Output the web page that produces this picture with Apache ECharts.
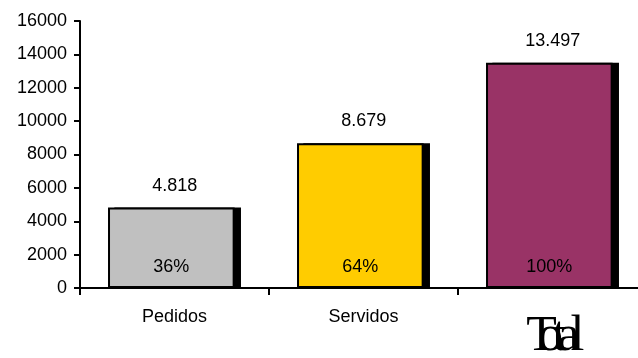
<!DOCTYPE html>
<html>
<head>
<meta charset="utf-8">
<script src="https://cdn.jsdelivr.net/npm/echarts@6/dist/echarts.min.js"></script>
<style>
  html, body { margin: 0; padding: 0; background: #fff; }
  #chart { width: 638px; height: 358px; }
</style>
</head>
<body>
<div id="chart"></div>
<script>
const categories = ['Pedidos', 'Servidos', 'Total']
const values = [4818, 8679, 13497]
const valueLabels = ['4.818', '8.679', '13.497']
const percentLabels = ['36%', '64%', '100%']
const barColors = ['#c0c0c0', '#ffcc00', '#993366']

const font = 'Liberation Sans, Arial, sans-serif'

const chart = echarts.init(document.getElementById('chart'))

// the last label is drawn squeezed, glyphs overlapping
const squeeze = (s) => s.split('').map((c, i) => (i === 0 ? '{f|' : '{g|') + c + '}').join('')

chart.setOption({
  animation: false,
  grid: {
    left: 80,
    right: -9,
    top: 21,
    bottom: 70,
    outerBoundsMode: 'none'
  },
  xAxis: {
    type: 'category',
    data: categories,
    axisLine: { lineStyle: { color: '#000', width: 2 } },
    axisTick: { show: true, interval: 0, length: 7, lineStyle: { color: '#000', width: 2 } },
    axisLabel: {
      interval: 0,
      hideOverlap: false,
      color: '#000',
      fontFamily: font,
      fontSize: 18,
      margin: 20,
      formatter: (v) => v === 'Total' ? squeeze(v) : v,
      rich: {
        f: {
          fontFamily: 'Liberation Serif, serif',
          fontSize: 50,
          width: 9,
          color: '#000',
          padding: [4, 0, 0, 14]
        },
        g: {
          fontFamily: 'Liberation Serif, serif',
          fontSize: 50,
          width: 9,
          color: '#000',
          padding: [4, 0, 0, 0]
        }
      }
    }
  },
  yAxis: {
    type: 'value',
    min: 0,
    max: 16000,
    interval: 2000,
    axisLine: { show: true, lineStyle: { color: '#000', width: 2 } },
    axisTick: { show: true, length: 6, lineStyle: { color: '#000', width: 2 } },
    axisLabel: {
      color: '#000',
      fontFamily: font,
      fontSize: 18,
      margin: 13,
      formatter: (v) => String(v)
    },
    splitLine: { show: false }
  },
  series: [
    {
      type: 'bar',
      barWidth: '67%',
      barGap: '-95%',
      data: values.map((v, i) => ({
        value: v,
        itemStyle: { color: barColors[i] }
      })),
      itemStyle: {
        borderColor: '#000',
        borderWidth: 2
      },
      label: {
        show: true,
        position: 'insideBottom',
        distance: 12,
        color: '#000',
        fontFamily: font,
        fontSize: 18,
        formatter: (p) => percentLabels[p.dataIndex]
      },
      z: 3
    },
    {
      // drop shadow behind each bar
      type: 'bar',
      barWidth: '67%',
      barGap: '-95%',
      data: values,
      itemStyle: { color: '#000' },
      label: {
        show: true,
        position: 'top',
        distance: 13,
        offset: [-3, 0],
        color: '#000',
        fontFamily: font,
        fontSize: 18,
        formatter: (p) => valueLabels[p.dataIndex]
      },
      silent: true,
      z: 2
    }
  ]
})
</script>
</body>
</html>
